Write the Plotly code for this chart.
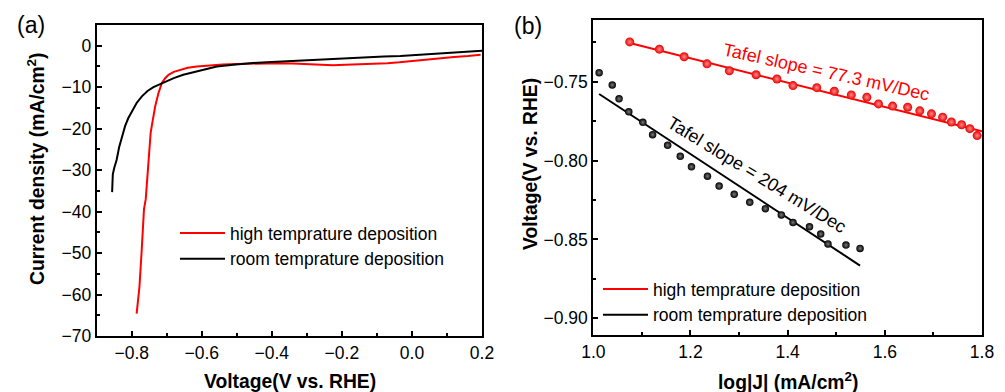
import plotly.graph_objects as go

# ---------------- data: panel (a) LSV curves ----------------
v_high = [-0.786, -0.778, -0.772, -0.765, -0.760, -0.755, -0.750, -0.746, -0.741, -0.733,
          -0.724, -0.714, -0.705, -0.695, -0.680, -0.662, -0.640, -0.614, -0.580, -0.540,
          -0.500, -0.460, -0.420, -0.380, -0.340, -0.300, -0.260, -0.226, -0.190, -0.150,
          -0.110, -0.070, -0.036, 0.000, 0.040, 0.080, 0.120, 0.160, 0.196]
j_high = [-64.6, -58.2, -50.0, -39.4, -37.0, -31.0, -25.0, -21.0, -18.5, -14.6,
          -11.5, -9.0, -7.9, -7.0, -6.3, -5.8, -5.3, -5.0, -4.7, -4.5,
          -4.4, -4.3, -4.2, -4.2, -4.3, -4.4, -4.5, -4.7, -4.6, -4.5,
          -4.4, -4.2, -4.0, -3.7, -3.3, -3.0, -2.7, -2.5, -2.2]

v_room = [-0.856, -0.854, -0.850, -0.843, -0.836, -0.828, -0.819, -0.810, -0.800, -0.786,
          -0.771, -0.755, -0.738, -0.720, -0.700, -0.680, -0.653, -0.630, -0.605, -0.580,
          -0.557, -0.510, -0.462, -0.415, -0.367, -0.320, -0.271, -0.200, -0.129, -0.080,
          -0.033, 0.040, 0.109, 0.160, 0.200]
j_room = [-35.3, -31.0, -29.5, -27.5, -24.5, -21.8, -19.4, -17.5, -15.8, -13.8,
          -12.2, -10.9, -10.0, -9.3, -8.6, -7.8, -7.0, -6.5, -6.1, -5.5,
          -5.0, -4.6, -4.2, -4.0, -3.8, -3.5, -3.3, -3.0, -2.8, -2.6,
          -2.5, -2.1, -1.7, -1.4, -1.2]

# ---------------- data: panel (b) Tafel plots ----------------
logj_high = [1.075, 1.136, 1.187, 1.234, 1.280, 1.335, 1.378, 1.411, 1.460, 1.496, 1.531,
             1.563, 1.587, 1.616, 1.647, 1.672, 1.696, 1.719, 1.737, 1.758, 1.775, 1.790]
eta_high = [-0.7248, -0.7294, -0.7342, -0.7387, -0.7431, -0.7456, -0.7483, -0.7525, -0.7538,
            -0.7561, -0.7584, -0.7599, -0.7641, -0.7655, -0.7662, -0.7685, -0.7704, -0.7725,
            -0.7756, -0.7773, -0.7798, -0.7842]

logj_room = [1.012, 1.039, 1.053, 1.073, 1.102, 1.122, 1.153, 1.179, 1.202, 1.235, 1.259,
             1.290, 1.322, 1.354, 1.387, 1.411, 1.445, 1.468, 1.483, 1.520, 1.549]
eta_room = [-0.7443, -0.7521, -0.7609, -0.7691, -0.7758, -0.7836, -0.7903, -0.7973, -0.8040,
            -0.8099, -0.8162, -0.8214, -0.8265, -0.8305, -0.8345, -0.8393, -0.8420, -0.8466,
            -0.8529, -0.8536, -0.8557]

# linear fit end points
fit_high_x = [1.075, 1.800]
fit_high_y = [-0.7255, -0.7815]
fit_room_x = [1.012, 1.549]
fit_room_y = [-0.7578, -0.8666]

names = ["high temprature deposition", "room temprature deposition"]
slope_labels = ["Tafel slope = 77.3 mV/Dec", "Tafel slope = 204 mV/Dec"]

RED = "#ff0000"
BLACK = "#000000"
FONT = "Arial, 'Liberation Sans', sans-serif"
W, H = 1005, 392

fig = go.Figure()

# panel (a)
fig.add_trace(go.Scatter(x=v_high, y=j_high, mode="lines", name=names[0],
                         line=dict(color=RED, width=2), xaxis="x", yaxis="y", legend="legend"))
fig.add_trace(go.Scatter(x=v_room, y=j_room, mode="lines", name=names[1],
                         line=dict(color=BLACK, width=2), xaxis="x", yaxis="y", legend="legend"))

# panel (b)
fig.add_trace(go.Scatter(x=fit_high_x, y=fit_high_y, mode="lines", name=names[0],
                         line=dict(color=RED, width=2), xaxis="x2", yaxis="y2", legend="legend2"))
fig.add_trace(go.Scatter(x=fit_room_x, y=fit_room_y, mode="lines", name=names[1],
                         line=dict(color=BLACK, width=2), xaxis="x2", yaxis="y2", legend="legend2"))
fig.add_trace(go.Scatter(x=logj_high, y=eta_high, mode="markers", showlegend=False,
                         marker=dict(size=9, color="#e80000", line=dict(width=0),
                                     gradient=dict(type="radial", color="#ff8a8a")),
                         xaxis="x2", yaxis="y2"))
fig.add_trace(go.Scatter(x=logj_room, y=eta_room, mode="markers", showlegend=False,
                         marker=dict(size=7.5, color="#000000", line=dict(width=0),
                                     gradient=dict(type="radial", color="#7a7a7a")),
                         xaxis="x2", yaxis="y2"))

minor_common = dict(ticks="inside", ticklen=3, tickwidth=1.5, tickcolor="black")
axis_common = dict(showline=True, linecolor="black", linewidth=2, mirror=True,
                   ticks="inside", ticklen=5, tickwidth=1.5, tickcolor="black",
                   showgrid=False, zeroline=False, automargin=False,
                   tickfont=dict(family=FONT, size=17.5, color="black"))

fig.update_layout(
    template="none",
    width=W, height=H,
    margin=dict(l=0, r=0, t=0, b=0, autoexpand=False),
    paper_bgcolor="white", plot_bgcolor="white",
    font=dict(family=FONT, color="black"),
    xaxis=dict(domain=[96.7 / W, 482 / W], range=[-0.9, 0.2], dtick=0.2, tick0=0,
               tickformat=".1f", anchor="y", minor=dict(dtick=0.1, **minor_common),
               **axis_common),
    yaxis=dict(domain=[1 - 336 / H, 1 - 25 / H], range=[-70, 5], dtick=10, tick0=0, anchor="x",
               minor=dict(dtick=5, **minor_common), **axis_common),
    xaxis2=dict(domain=[593.3 / W, 982 / W], range=[1.0, 1.8], dtick=0.2, tick0=1.0,
                tickformat=".1f", anchor="y2", minor=dict(dtick=0.1, **minor_common),
                **axis_common),
    yaxis2=dict(domain=[1 - 334.5 / H, 1 - 20 / H], range=[-0.9103, -0.7109], dtick=0.05,
                tick0=-0.75, tickformat=".2f", anchor="x2",
                minor=dict(dtick=0.025, **minor_common), **axis_common),
    legend=dict(x=175 / W, y=1 - 215 / H, xanchor="left", yanchor="top",
                bgcolor="rgba(0,0,0,0)", itemwidth=45, tracegroupgap=0,
                font=dict(family=FONT, size=17.5, color="black")),
    legend2=dict(x=598 / W, y=1 - 271 / H, xanchor="left", yanchor="top",
                 bgcolor="rgba(0,0,0,0)", itemwidth=45, tracegroupgap=0,
                 font=dict(family=FONT, size=17.5, color="black")),
)

annotations = [
    dict(text="(a)", x=30.5 / W, y=1 - 25 / H, font=dict(size=23)),
    dict(text="(b)", x=528 / W, y=1 - 26 / H, font=dict(size=23)),
    dict(text="<b>Voltage(V vs. RHE)</b>", x=290 / W, y=1 - 381 / H, font=dict(size=19.3)),
    dict(text="<b>Current density (mA/cm<sup>2</sup>)</b>", x=36 / W, y=1 - 169 / H,
         font=dict(size=19.3), textangle=-90),
    dict(text="<b>log|J| (mA/cm<sup>2</sup>)</b>", x=787.5 / W, y=1 - 381 / H, font=dict(size=19.3)),
    dict(text="<b>Voltage(V vs. RHE)</b>", x=530 / W, y=1 - 164 / H,
         font=dict(size=19.3), textangle=-90),
    dict(text=slope_labels[0], x=826 / W, y=1 - 72 / H, font=dict(size=18, color=RED), textangle=12.5),
    dict(text=slope_labels[1], x=757 / W, y=1 - 175 / H, font=dict(size=18, color=BLACK), textangle=31.5),
]
for a in annotations:
    a.update(xref="paper", yref="paper", xanchor="center", yanchor="middle", showarrow=False)
    a["font"] = dict(family=FONT, color=a["font"].get("color", "black"), size=a["font"]["size"])
fig.update_layout(annotations=annotations)

fig.write_html("out.html", config=dict(displayModeBar=False),
               post_script="document.body.style.margin='0';document.body.style.overflow='hidden';")
